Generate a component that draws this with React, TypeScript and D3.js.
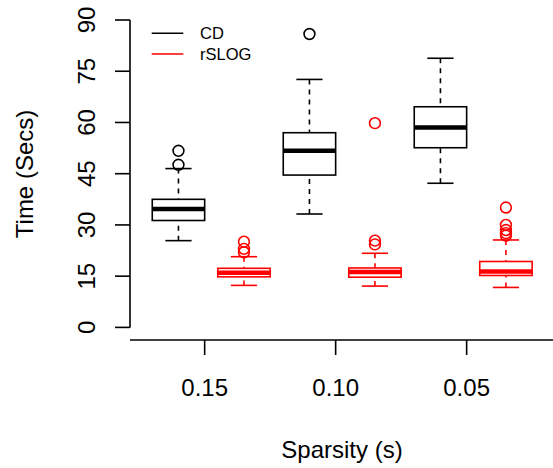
import React from "react";
import * as d3 from "d3";

const sparsity = ["0.15", "0.10", "0.05"];
const methods = ["CD", "rSLOG"];
const methodColors = ["#000000", "#FF0000"];

// CD box statistics per sparsity level
const cdLow = [25.4, 33.2, 42.2];
const cdQ1 = [31.3, 44.6, 52.6];
const cdMed = [34.7, 51.7, 58.5];
const cdQ3 = [37.5, 57.0, 64.6];
const cdHigh = [46.5, 72.6, 78.8];
const cdOutliers = [[47.6, 51.7], [85.9], []];

// rSLOG box statistics per sparsity level
const rsLow = [12.3, 12.1, 11.7];
const rsQ1 = [14.8, 14.7, 15.2];
const rsMed = [16.0, 16.2, 16.4];
const rsQ3 = [17.3, 17.4, 19.3];
const rsHigh = [20.7, 21.7, 25.6];
const rsOutliers = [
  [22.0, 23.0, 25.1],
  [24.3, 25.4, 59.8],
  [26.9, 27.6, 28.5, 30.0, 35.1],
];

const yTicks = [0, 15, 30, 45, 60, 75, 90];

const W = 553;
const H = 468;
const FONT = "'Liberation Sans', Arial, Helvetica, sans-serif";

export default function App() {
  const x = d3.scaleLinear().domain([0.26, 6.74]).range([130, 554.4]);
  const y = d3.scaleLinear().domain([0, 90]).range([327.4, 20]);
  const boxHalf = (x(1.4) - x(1)); // 0.4 units
  const capHalf = boxHalf / 2;

  const series = [
    { low: cdLow, q1: cdQ1, med: cdMed, q3: cdQ3, high: cdHigh, out: cdOutliers },
    { low: rsLow, q1: rsQ1, med: rsMed, q3: rsQ3, high: rsHigh, out: rsOutliers },
  ];

  const boxes: any[] = [];
  sparsity.forEach((_, gi) => {
    series.forEach((s, si) => {
      const pos = gi * 2 + si + 1;
      boxes.push({
        key: `${gi}-${si}`,
        cx: x(pos),
        color: methodColors[si],
        low: s.low[gi],
        q1: s.q1[gi],
        med: s.med[gi],
        q3: s.q3[gi],
        high: s.high[gi],
        out: s.out[gi],
      });
    });
  });

  const tickPos = sparsity.map((_, i) => i * 2 + 1.4);
  const lw = 1.6;

  return (
    <svg
      width={W}
      height={H}
      style={{ position: "absolute", left: 0, top: 0, background: "#fff" }}
      fontFamily={FONT}
    >
      <rect x={0} y={0} width={W} height={H} fill="#fff" />
      {/* boxes */}
      {boxes.map((b) => (
        <g key={b.key} stroke={b.color} fill="none">
          <line
            x1={b.cx}
            x2={b.cx}
            y1={y(b.high)}
            y2={y(b.q3)}
            strokeWidth={lw}
            strokeDasharray="5,5"
          />
          <line
            x1={b.cx}
            x2={b.cx}
            y1={y(b.low)}
            y2={y(b.q1)}
            strokeWidth={lw}
            strokeDasharray="5,5"
          />
          <line x1={b.cx - capHalf} x2={b.cx + capHalf} y1={y(b.high)} y2={y(b.high)} strokeWidth={lw} />
          <line x1={b.cx - capHalf} x2={b.cx + capHalf} y1={y(b.low)} y2={y(b.low)} strokeWidth={lw} />
          <rect
            x={b.cx - boxHalf}
            y={y(b.q3)}
            width={boxHalf * 2}
            height={y(b.q1) - y(b.q3)}
            fill="#fff"
            strokeWidth={lw}
          />
          <line x1={b.cx - boxHalf} x2={b.cx + boxHalf} y1={y(b.med)} y2={y(b.med)} strokeWidth={4.5} />
          {b.out.map((v: number, i: number) => (
            <circle key={i} cx={b.cx} cy={y(v)} r={5.4} strokeWidth={lw} />
          ))}
        </g>
      ))}

      {/* y axis */}
      <g stroke="#000" strokeWidth={lw}>
        <line x1={130} x2={130} y1={y(0)} y2={y(90)} />
        {yTicks.map((t) => (
          <line key={t} x1={115} x2={130} y1={y(t)} y2={y(t)} />
        ))}
      </g>
      {yTicks.map((t) => (
        <text
          key={t}
          transform={`translate(95,${y(t)}) rotate(-90)`}
          textAnchor="middle"
          fontSize={24}
          fill="#000"
        >
          {t}
        </text>
      ))}

      {/* x axis */}
      <g stroke="#000" strokeWidth={lw}>
        <line x1={130} x2={W} y1={340} y2={340} />
        {tickPos.map((p, i) => (
          <line key={i} x1={x(p)} x2={x(p)} y1={340} y2={355} />
        ))}
      </g>
      {tickPos.map((p, i) => (
        <text key={i} x={x(p)} y={396} textAnchor="middle" fontSize={24} fill="#000">
          {sparsity[i]}
        </text>
      ))}

      {/* titles */}
      <text x={342} y={457.5} textAnchor="middle" fontSize={24} fill="#000">
        Sparsity (s)
      </text>
      <text
        transform={`translate(33,174) rotate(-90)`}
        textAnchor="middle"
        fontSize={24}
        fill="#000"
      >
        Time (Secs)
      </text>

      {/* legend */}
      {methods.map((m, i) => (
        <g key={m}>
          <line
            x1={151.7}
            x2={183.3}
            y1={33.3 + i * 20.7}
            y2={33.3 + i * 20.7}
            stroke={methodColors[i]}
            strokeWidth={lw}
          />
          <text x={200} y={39.3 + i * 20.7} fontSize={16.5} fill="#000">
            {m}
          </text>
        </g>
      ))}
    </svg>
  );
}
